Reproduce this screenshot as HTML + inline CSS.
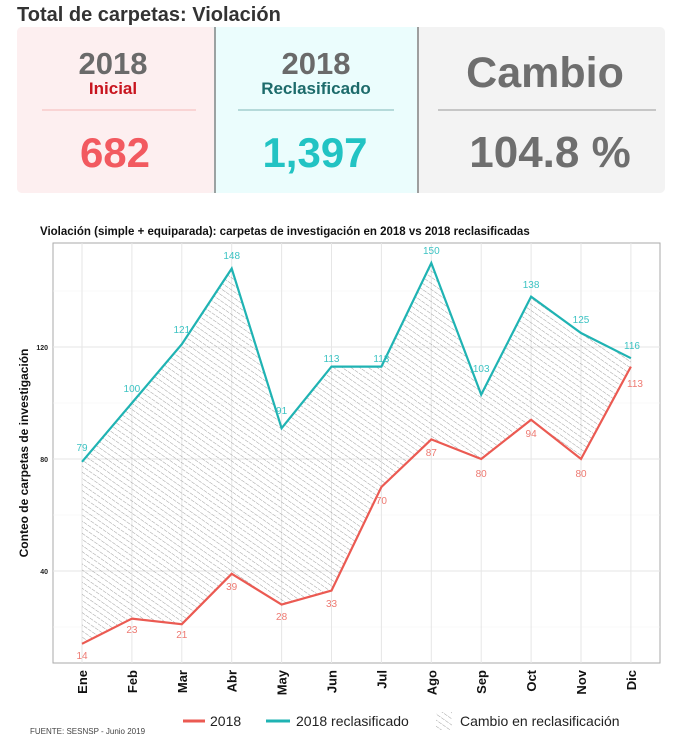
<!DOCTYPE html>
<html><head><meta charset="utf-8"><style>
body{margin:0;background:#fff;width:680px;height:741px;overflow:hidden;font-family:"Liberation Sans",sans-serif}
</style></head><body>
<svg width="680" height="741" xmlns="http://www.w3.org/2000/svg" font-family="Liberation Sans, sans-serif">
<defs>
<pattern id="h" width="5" height="5" patternUnits="userSpaceOnUse" patternTransform="rotate(-55)">
<line x1="0" y1="0" x2="0" y2="5" stroke="#8a8a8a" stroke-width="0.8" stroke-dasharray="2,1"/>
</pattern>
</defs>
<text x="17" y="21" font-size="20" font-weight="bold" fill="#333">Total de carpetas: Violación</text>
<rect x="17" y="27" width="648" height="166" rx="5" fill="#f3f3f3"/>
<rect x="17" y="27" width="197" height="166" rx="5" fill="#fdeff0"/>
<rect x="214" y="27" width="203" height="166" fill="#ebfdfd"/>
<line x1="215" y1="27" x2="215" y2="193" stroke="#666" stroke-width="1.2"/>
<line x1="418" y1="27" x2="418" y2="193" stroke="#666" stroke-width="1.2"/>
<text x="113" y="74" text-anchor="middle" font-size="31" font-weight="bold" fill="#6a6a6a">2018</text>
<text x="113" y="94" text-anchor="middle" font-size="17" font-weight="bold" fill="#c8141e">Inicial</text>
<line x1="42" y1="110" x2="196" y2="110" stroke="#f5b8b8" stroke-width="1"/>
<text x="115" y="167" text-anchor="middle" font-size="42" font-weight="bold" fill="#f25a60">682</text>
<text x="316" y="74" text-anchor="middle" font-size="31" font-weight="bold" fill="#6a6a6a">2018</text>
<text x="316" y="94" text-anchor="middle" font-size="17" font-weight="bold" fill="#1d6b6b">Reclasificado</text>
<line x1="238" y1="110" x2="394" y2="110" stroke="#7fb8b8" stroke-width="1"/>
<text x="315" y="167" text-anchor="middle" font-size="42" font-weight="bold" fill="#22c3c3">1,397</text>
<text x="545" y="87" text-anchor="middle" font-size="43" font-weight="bold" fill="#6e6e6e">Cambio</text>
<line x1="438" y1="110" x2="656" y2="110" stroke="#999" stroke-width="1"/>
<text x="550" y="167" text-anchor="middle" font-size="44" font-weight="bold" fill="#6e6e6e">104.8 %</text>
<text x="40" y="235" font-size="11.5" font-weight="bold" fill="#111">Violación (simple + equiparada): carpetas de investigación en 2018 vs 2018 reclasificadas</text>
<rect x="53" y="243" width="607" height="420" fill="#fff" stroke="#aaa" stroke-width="1"/>
<g stroke="#f2f2f2" stroke-width="0.6">
<line x1="53" x2="660" y1="627" y2="627"/><line x1="53" x2="660" y1="515" y2="515"/><line x1="53" x2="660" y1="403" y2="403"/><line x1="53" x2="660" y1="291" y2="291"/>
</g>
<g stroke="#e6e6e6" stroke-width="1">
<line x1="53" x2="660" y1="571" y2="571"/><line x1="53" x2="660" y1="459" y2="459"/><line x1="53" x2="660" y1="347" y2="347"/>
<line x1="82" x2="82" y1="243" y2="663"/><line x1="131.9" x2="131.9" y1="243" y2="663"/><line x1="181.8" x2="181.8" y1="243" y2="663"/><line x1="231.7" x2="231.7" y1="243" y2="663"/><line x1="281.6" x2="281.6" y1="243" y2="663"/><line x1="331.5" x2="331.5" y1="243" y2="663"/><line x1="381.4" x2="381.4" y1="243" y2="663"/><line x1="431.3" x2="431.3" y1="243" y2="663"/><line x1="481.2" x2="481.2" y1="243" y2="663"/><line x1="531.1" x2="531.1" y1="243" y2="663"/><line x1="581" x2="581" y1="243" y2="663"/><line x1="630.9" x2="630.9" y1="243" y2="663"/>
</g>
<polygon fill="url(#h)" points="82,461.8 131.9,403 181.8,344.2 231.7,268.6 281.6,428.2 331.5,366.6 381.4,366.6 431.3,263 481.2,394.6 531.1,296.6 581,333 630.9,358.2 630.9,366.6 581,459 531.1,419.8 481.2,459 431.3,439.4 381.4,487 331.5,590.6 281.6,604.6 231.7,573.8 181.8,624.2 131.9,618.6 82,643.8"/>
<polyline fill="none" stroke="#1fb3b3" stroke-width="2.2" points="82,461.8 131.9,403 181.8,344.2 231.7,268.6 281.6,428.2 331.5,366.6 381.4,366.6 431.3,263 481.2,394.6 531.1,296.6 581,333 630.9,358.2"/>
<polyline fill="none" stroke="#eb5a52" stroke-width="2.2" points="82,643.8 131.9,618.6 181.8,624.2 231.7,573.8 281.6,604.6 331.5,590.6 381.4,487 431.3,439.4 481.2,459 531.1,419.8 581,459 630.9,366.6"/>
<g font-size="10" fill="#3cc3c3" text-anchor="middle">
<text x="82" y="451">79</text><text x="131.9" y="392">100</text><text x="181.8" y="333">121</text><text x="231.7" y="259">148</text><text x="281.6" y="414">91</text><text x="331.5" y="362">113</text><text x="381.4" y="362">113</text><text x="431.3" y="254">150</text><text x="481.2" y="372">103</text><text x="531.1" y="288">138</text><text x="581" y="323">125</text><text x="632" y="349">116</text>
</g>
<g font-size="10" fill="#ee7a72" text-anchor="middle">
<text x="82" y="659">14</text><text x="131.9" y="633">23</text><text x="181.8" y="638">21</text><text x="231.7" y="590">39</text><text x="281.6" y="620">28</text><text x="331.5" y="607">33</text><text x="381.4" y="504">70</text><text x="431.3" y="456">87</text><text x="481.2" y="477">80</text><text x="531.1" y="437">94</text><text x="581" y="477">80</text><text x="635" y="387">113</text>
</g>
<g font-size="7" font-weight="bold" fill="#222" text-anchor="end">
<text x="48" y="574">40</text><text x="48" y="462">80</text><text x="48" y="350">120</text>
</g>
<text transform="translate(28,453) rotate(-90)" text-anchor="middle" font-size="12" font-weight="bold" fill="#111">Conteo de carpetas de investigación</text>
<g font-size="13" font-weight="bold" fill="#111" text-anchor="end">
<text transform="translate(87,670) rotate(-90)">Ene</text><text transform="translate(136.9,670) rotate(-90)">Feb</text><text transform="translate(186.8,670) rotate(-90)">Mar</text><text transform="translate(236.7,670) rotate(-90)">Abr</text><text transform="translate(286.6,670) rotate(-90)">May</text><text transform="translate(336.5,670) rotate(-90)">Jun</text><text transform="translate(386.4,670) rotate(-90)">Jul</text><text transform="translate(436.3,670) rotate(-90)">Ago</text><text transform="translate(486.2,670) rotate(-90)">Sep</text><text transform="translate(536.1,670) rotate(-90)">Oct</text><text transform="translate(586,670) rotate(-90)">Nov</text><text transform="translate(635.9,670) rotate(-90)">Dic</text>
</g>
<line x1="183" y1="721" x2="205" y2="721" stroke="#eb5a52" stroke-width="3"/>
<text x="210" y="726" font-size="14" fill="#222">2018</text>
<line x1="266" y1="721" x2="290" y2="721" stroke="#1fb3b3" stroke-width="3"/>
<text x="296" y="726" font-size="14" fill="#222">2018 reclasificado</text>
<rect x="436" y="712" width="16" height="18" fill="url(#h)"/>
<text x="460" y="726" font-size="14" fill="#222">Cambio en reclasificación</text>
<text x="30" y="734" font-size="8" fill="#444">FUENTE: SESNSP - Junio 2019</text>
</svg>
</body></html>
